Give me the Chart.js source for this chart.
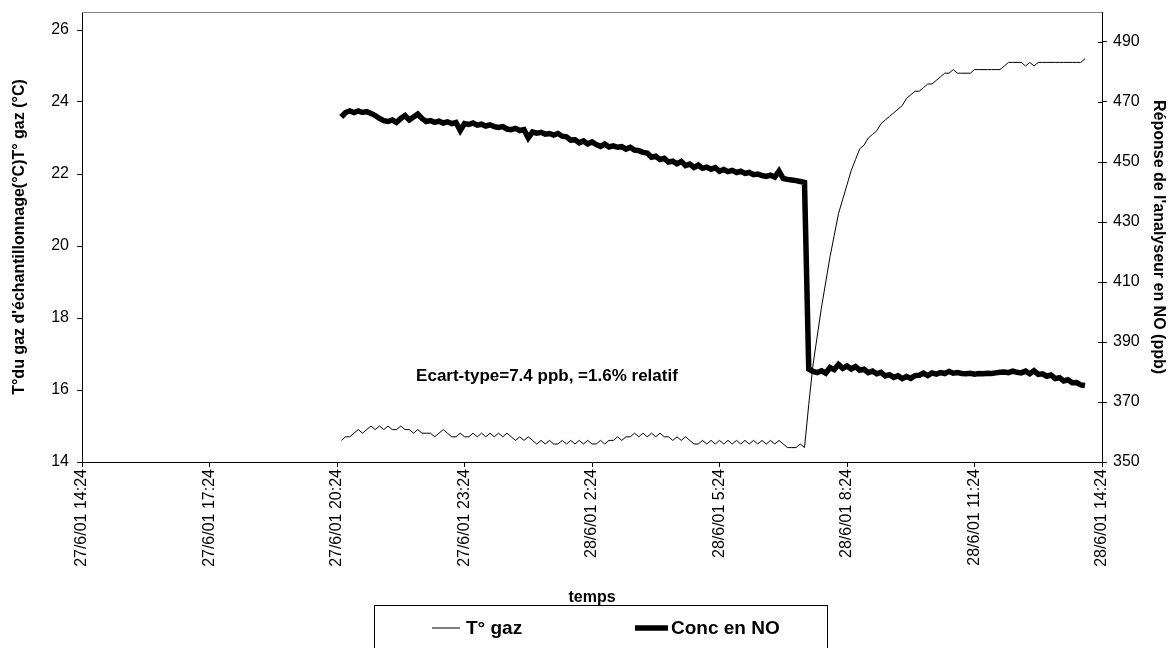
<!DOCTYPE html>
<html>
<head>
<meta charset="utf-8">
<script src="https://cdn.jsdelivr.net/npm/chart.js@4"></script>
<style>
  html, body { margin: 0; padding: 0; background: #fff; }
  canvas { display: block; }
</style>
</head>
<body>
<canvas id="graph" width="1171" height="648"></canvas>
<script>
// heures écoulées depuis le 27/6/01 14:24, une mesure toutes les 6 minutes
const debutMesures = 6.1;
const pasMesures = 0.1;

// T° gaz (°C), axe de gauche
const tGaz = [
  14.6, 14.7, 14.7, 14.8, 14.9, 14.8, 14.9, 15.0, 14.9, 15.0,
  14.9, 15.0, 14.9, 14.9, 15.0, 14.9, 14.9, 14.8, 14.9, 14.8,
  14.8, 14.8, 14.7, 14.8, 14.9, 14.8, 14.7, 14.7, 14.8, 14.7,
  14.7, 14.8, 14.7, 14.8, 14.7, 14.8, 14.7, 14.8, 14.7, 14.8,
  14.7, 14.6, 14.7, 14.6, 14.7, 14.6, 14.5, 14.6, 14.5, 14.6,
  14.5, 14.5, 14.6, 14.5, 14.6, 14.5, 14.6, 14.5, 14.6, 14.5,
  14.5, 14.6, 14.5, 14.6, 14.6, 14.7, 14.6, 14.7, 14.7, 14.8,
  14.7, 14.8, 14.7, 14.8, 14.7, 14.8, 14.7, 14.7, 14.6, 14.7,
  14.6, 14.7, 14.6, 14.5, 14.5, 14.6, 14.5, 14.6, 14.5, 14.6,
  14.5, 14.6, 14.5, 14.6, 14.5, 14.6, 14.5, 14.6, 14.5, 14.6,
  14.5, 14.6, 14.5, 14.6, 14.5, 14.4, 14.4, 14.4, 14.5, 14.4,
  15.6, 16.7, 17.5, 18.3, 19.0, 19.7, 20.3, 20.9, 21.3, 21.7,
  22.1, 22.4, 22.7, 22.8, 23.0, 23.1, 23.2, 23.4, 23.5, 23.6,
  23.7, 23.8, 23.9, 24.1, 24.2, 24.3, 24.3, 24.4, 24.5, 24.5,
  24.6, 24.7, 24.8, 24.8, 24.9, 24.8, 24.8, 24.8, 24.8, 24.9,
  24.9, 24.9, 24.9, 24.9, 24.9, 24.9, 25.0, 25.1, 25.1, 25.1,
  25.1, 25.0, 25.1, 25.0, 25.1, 25.1, 25.1, 25.1, 25.1, 25.1,
  25.1, 25.1, 25.1, 25.1, 25.1, 25.2
];

// Conc en NO (ppb), axe de droite
const concNO = [
  465.0, 466.5, 467.0, 466.5, 467.0, 466.5, 466.8, 466.2, 465.5, 464.5,
  463.8, 463.5, 464.0, 463.2, 464.5, 465.5, 464.0, 465.0, 466.0, 464.5,
  463.5, 463.8, 463.2, 463.6, 463.0, 463.4, 462.8, 463.2, 460.5, 462.8,
  462.5, 463.0, 462.3, 462.6, 462.0, 462.4, 461.8, 461.5, 461.8, 461.0,
  460.8, 461.2, 460.5, 460.8, 458.0, 460.0, 459.6, 459.9, 459.3, 459.5,
  459.0, 459.5, 458.6, 458.4, 457.3, 457.4, 456.4, 457.0, 456.0, 456.7,
  455.8, 455.2, 456.0, 455.0, 455.4, 454.9, 455.1, 454.3, 454.9, 454.0,
  453.8, 453.2, 453.0, 451.6, 451.9, 450.8, 451.2, 450.0, 450.3, 449.4,
  450.2, 448.8, 449.3, 448.2, 449.0, 447.9, 448.3, 447.6, 448.1, 446.9,
  447.5, 446.8, 447.2, 446.5, 446.9, 446.2, 446.5, 445.8, 446.0, 445.5,
  445.2, 445.6, 445.0, 447.0, 444.5, 444.2, 444.0, 443.8, 443.5, 443.2,
  381.0, 380.2, 379.8, 380.4, 379.6, 381.5, 380.8, 382.5, 381.2, 382.0,
  381.0, 381.8, 380.6, 380.9, 379.8, 380.3, 379.4, 379.9, 378.7, 379.1,
  378.2, 378.7, 377.8, 378.5, 377.9, 378.8, 378.9, 379.6, 378.8, 379.7,
  379.3, 379.8, 379.5, 380.2, 379.6, 379.8, 379.5, 379.4, 379.6, 379.3,
  379.5, 379.4, 379.6, 379.5, 379.7, 379.9, 380.0, 379.8, 380.3, 379.9,
  379.7, 380.3, 379.4, 380.4, 379.2, 379.4, 378.6, 379.0, 377.8, 378.1,
  377.0, 377.4, 376.4, 376.5, 375.7, 375.5
];

const seriesNoms = ["T° gaz", "Conc en NO"];
const graduationsTemps = [0, 3, 6, 9, 12, 15, 18, 21, 24];
const graduationsT = [14, 16, 18, 20, 22, 24, 26];
const graduationsNO = [350, 370, 390, 410, 430, 450, 470, 490];
const titreGauche = "T°du gaz d'échantillonnage(°C)T° gaz (°C)";
const titreDroite = "Réponse de l'analyseur en NO (ppb)";
const titreBas = "temps";
const note = "Ecart-type=7.4 ppb, =1.6% relatif";

const police = "'Liberation Sans', Arial, Helvetica, sans-serif";

// libellé d'une heure écoulée depuis le 27/6/01 14:24
function etiquetteDate(h) {
  const total = Math.round(14 * 60 + 24 + h * 60);
  const jour = 27 + Math.floor(total / 1440);
  const m = total % 1440;
  const hh = Math.floor(m / 60);
  const mm = String(m % 60).padStart(2, "0");
  return jour + "/6/01 " + hh + ":" + mm;
}

const points = (vals) => vals.map((v, i) => ({ x: debutMesures + i * pasMesures, y: v }));
const fixerGraduations = (liste) => (s) => { s.ticks = liste.map((v) => ({ value: v })); };

// cadre gris du haut, petits traits internes de l'axe droit, note et légende
const decorPlugin = {
  id: "decor",
  afterDraw(chart) {
    const { ctx, chartArea } = chart;
    const yd = chart.scales.y1;
    ctx.save();

    ctx.strokeStyle = "#808080";
    ctx.lineWidth = 1;
    ctx.beginPath();
    ctx.moveTo(chartArea.left, Math.round(chartArea.top) + 0.5);
    ctx.lineTo(chartArea.right, Math.round(chartArea.top) + 0.5);
    ctx.stroke();

    ctx.strokeStyle = "#000";
    yd.ticks.forEach((t) => {
      const y = Math.round(yd.getPixelForValue(t.value)) + 0.5;
      ctx.beginPath();
      ctx.moveTo(chartArea.right - 4, y);
      ctx.lineTo(chartArea.right, y);
      ctx.stroke();
    });

    // note
    ctx.fillStyle = "#000";
    ctx.font = "bold 17px " + police;
    ctx.textAlign = "center";
    ctx.textBaseline = "middle";
    ctx.fillText(note, chart.scales.x.getPixelForValue(10.94), chart.scales.y.getPixelForValue(16.38));

    // légende
    ctx.lineWidth = 1;
    ctx.strokeRect(374.5, 605.5, 453, 60);
    ctx.font = "bold 19px " + police;
    ctx.textAlign = "left";
    const items = [
      { x0: 432, x1: 460, tx: 466 },
      { x0: 635, x1: 668, tx: 671 },
    ];
    chart.data.datasets.forEach((ds, i) => {
      const it = items[i];
      ctx.lineWidth = ds.borderWidth;
      ctx.beginPath();
      ctx.moveTo(it.x0, 628);
      ctx.lineTo(it.x1, 628);
      ctx.stroke();
      ctx.fillText(ds.label, it.tx, 629);
    });
    ctx.restore();
  },
};

new Chart(document.getElementById("graph"), {
  type: "line",
  data: {
    datasets: [
      {
        label: seriesNoms[0],
        data: points(tGaz),
        yAxisID: "y",
        borderColor: "#000",
        borderWidth: 1,
        pointRadius: 0,
        tension: 0,
      },
      {
        label: seriesNoms[1],
        data: points(concNO),
        yAxisID: "y1",
        borderColor: "#000",
        borderWidth: 5.5,
        pointRadius: 0,
        tension: 0,
        borderJoinStyle: "miter",
      },
    ],
  },
  options: {
    responsive: false,
    animation: false,
    devicePixelRatio: 1,
    layout: { padding: { top: 12, bottom: 40, left: 0, right: 0 } },
    plugins: {
      legend: { display: false },
      tooltip: { enabled: false },
    },
    scales: {
      x: {
        type: "linear",
        min: 0,
        max: 24,
        afterBuildTicks: fixerGraduations(graduationsTemps),
        afterFit(s) { s.height = 146; s.paddingLeft = 0; s.paddingRight = 0; },
        ticks: {
          autoSkip: false,
          minRotation: 90,
          maxRotation: 90,
          padding: 2,
          color: "#000",
          font: { family: police, size: 16 },
          callback: (v) => etiquetteDate(v),
        },
        grid: { drawOnChartArea: false, tickLength: 5, color: "#000" },
        border: { color: "#000" },
        title: {
          display: true,
          text: titreBas,
          color: "#000",
          padding: 1,
          font: { family: police, size: 16, weight: "bold" },
        },
      },
      y: {
        position: "left",
        min: 14,
        max: 26.5,
        afterBuildTicks: fixerGraduations(graduationsT),
        afterFit(s) { s.width = 82; s.paddingTop = 0; s.paddingBottom = 0; },
        ticks: {
          autoSkip: false,
          padding: 8,
          color: "#000",
          font: { family: police, size: 16 },
        },
        grid: { drawOnChartArea: false, tickLength: 5, color: "#000" },
        border: { color: "#000" },
        title: {
          display: true,
          text: titreGauche,
          color: "#000",
          padding: 10,
          font: { family: police, size: 16, weight: "bold" },
        },
      },
      y1: {
        position: "right",
        min: 350,
        max: 500,
        afterBuildTicks: fixerGraduations(graduationsNO),
        afterFit(s) { s.width = 69; s.paddingTop = 0; s.paddingBottom = 0; },
        ticks: {
          autoSkip: false,
          padding: 6,
          color: "#000",
          font: { family: police, size: 16 },
        },
        grid: { drawOnChartArea: false, tickLength: 5, color: "#000" },
        border: { color: "#000" },
        title: {
          display: true,
          text: titreDroite,
          color: "#000",
          padding: 3,
          font: { family: police, size: 16, weight: "bold" },
        },
      },
    },
  },
  plugins: [decorPlugin],
});
</script>
</body>
</html>
